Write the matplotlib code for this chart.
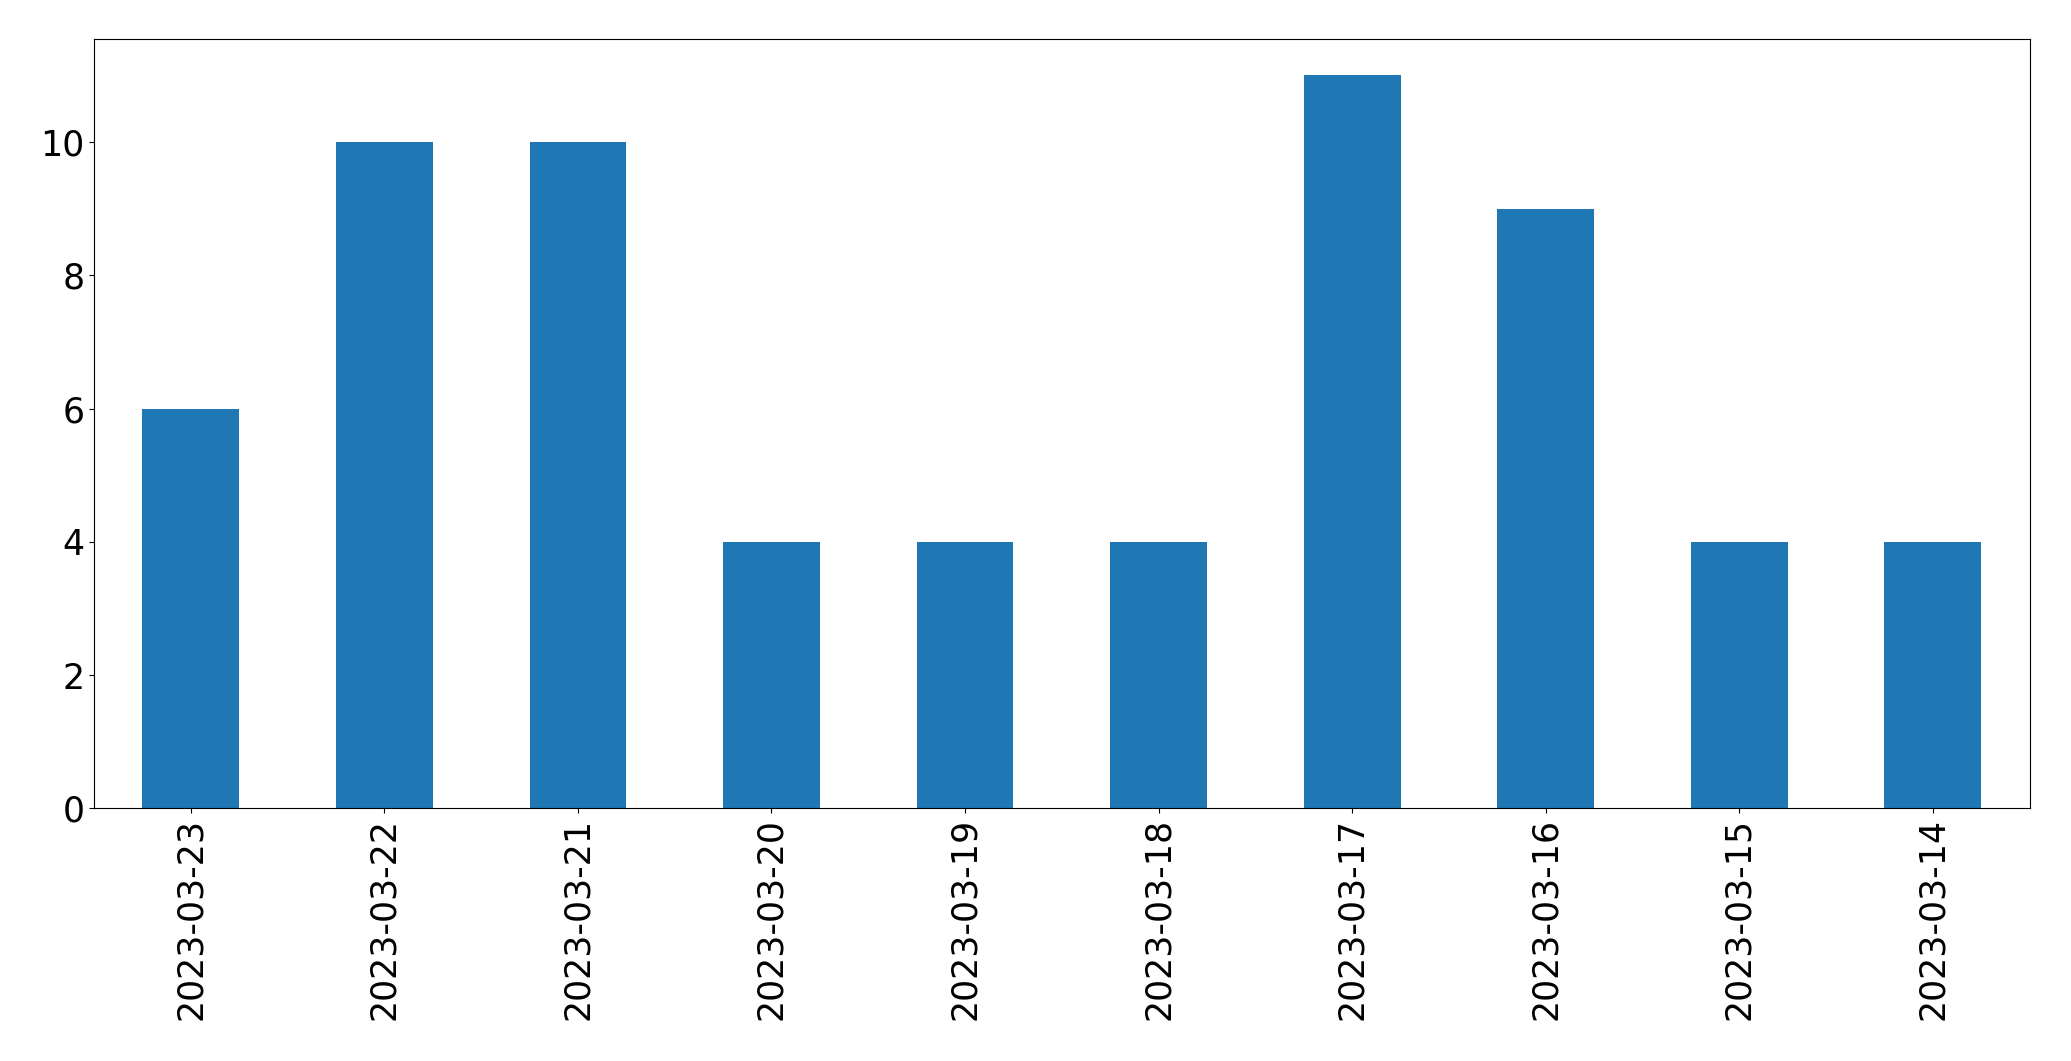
import matplotlib
matplotlib.use("Agg")
import matplotlib.pyplot as plt
import numpy as np

dates  = ["2023-03-23", "2023-03-22", "2023-03-21", "2023-03-20", "2023-03-19",
          "2023-03-18", "2023-03-17", "2023-03-16", "2023-03-15", "2023-03-14"]
counts = [6, 10, 10, 4, 4, 4, 11, 9, 4, 4]

fig, ax = plt.subplots(figsize=(20.71, 10.61), dpi=100)
x = np.arange(len(dates))
ax.bar(x, counts, width=0.5, color="#1f77b4")
ax.set_xticks(x)
ax.set_xticklabels(dates, rotation=90)
ax.set_xlim(-0.5, len(dates) - 0.5)
ax.tick_params(labelsize=25)
fig.subplots_adjust(left=0.0454, right=0.980, top=0.9635, bottom=0.238)
plt.savefig("out.png", dpi=100)
